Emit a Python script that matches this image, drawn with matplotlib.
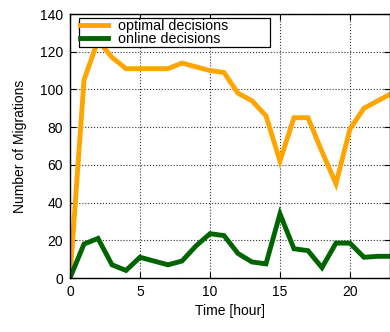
import numpy as np
import matplotlib
matplotlib.use("Agg")
import matplotlib.pyplot as plt

plt.rcParams['font.family'] = ['Liberation Sans', 'DejaVu Sans']

hours = list(range(24))
optimal = [0, 105, 126, 117, 111, 111, 111, 111, 114, 112, 110, 109,
           98, 94, 86, 62, 85, 85, 67, 50, 79, 90, 94, 98]
online = [0, 18, 21, 7, 4, 11, 9, 7, 9, 17, 23.5, 22.5,
          13, 8.5, 7.5, 34, 15.5, 14.5, 5.5, 18.5, 18.5, 11, 11.5, 11.5]

fig = plt.figure(figsize=(3.9, 3.32), dpi=100)
ax = fig.add_axes([70 / 390, 54 / 332, 320 / 390, 264 / 332])

ax.plot(hours, optimal, color='#ffa500', lw=3.5, label='optimal decisions',
        solid_joinstyle='miter')
ax.plot(hours, online, color='#006400', lw=3.5, label='online decisions',
        solid_joinstyle='miter')

ax.set_xlim(0, 22.86)
ax.set_ylim(0, 140)
ax.set_xticks([0, 5, 10, 15, 20])
ax.set_yticks(np.arange(0, 141, 20))
ax.tick_params(direction='in', top=True, right=True, labelsize=10, length=4, width=0.8, pad=5)
ax.grid(True, linestyle=':', color='#333333', lw=0.8)
for s in ax.spines.values():
    s.set_linewidth(1.0)

ax.set_xlabel('Time [hour]', fontsize=10, labelpad=4)
ax.set_ylabel('Number of Migrations', fontsize=10, labelpad=9)

# legend box: 79..270 px wide, 19..46 px tall in the reference
leg = ax.legend(loc='upper left', bbox_to_anchor=(9 / 320, 0.975, 191 / 320, 0.01),
                mode='expand', fontsize=10.3,
                frameon=True, fancybox=False, shadow=False, framealpha=1,
                edgecolor='black', handlelength=2.0, handletextpad=0.7,
                labelspacing=-0.05, borderpad=0.05, borderaxespad=0)
leg.get_frame().set_linewidth(0.9)
leg.set_zorder(5)

fig.savefig('out.png', dpi=100)
